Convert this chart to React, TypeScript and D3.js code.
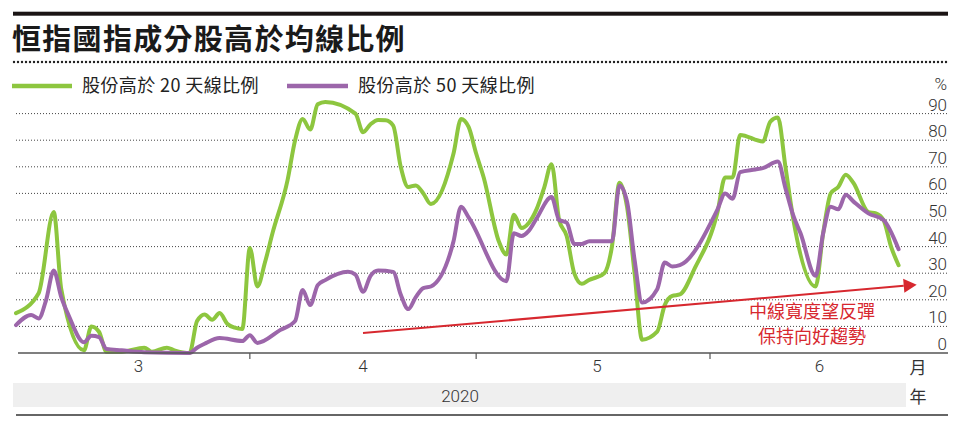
import React from "react";
import * as d3 from "d3";

// ---- data (day offset from 2020-03-01, value %) ----
const startDate = new Date(2020, 2, 1);
const green20Days = [0,3,5,6,9,10,11,12,14,17,18,20,21,23,24,25,26,27,28,29,30,31,32,33,34,36,37,38,39,40,41,45,46,47,48,49,50,51,52,53,54,55,58,59,60,61,62,64,65,66,67,68,69,70,71,72,73,74,75,76,77,78,79,80,81,82,83,85,86,87,88,90,93,94,95,96,99,100,101,102,103,106,107,108,109,110,111,113,114,115,116,117];
const green20Values = [15,22.5,53,24,1,10,8,0.5,0.5,2,0.5,2,1,0,12,14.5,12.5,15,11,9.5,9,39.5,25,34,45,65,80,88,84,93.5,94.4,90,83,86,87.6,87.5,85.5,70,62.4,63,60,56,75,88,85,75,66,42,37,52,47,49,54,62,71,50,44,30,26,27.5,28.5,30,40,64,55,30,5,8,18,21.5,22,32,53,66,66,82,79.5,87,88.5,70,51,25,45,60,62.4,67,64,53,52.5,50,40,33];
const purple50Days = [0,2,3,4,5,6,7,9,10,11,12,14,17,23,24,25,27,30,31,32,35,37,38,39,40,41,44,45,46,47,48,50,51,52,53,54,55,58,59,60,65,66,67,68,69,71,72,73,74,75,76,79,80,81,82,83,85,86,87,88,93,94,95,96,98,99,101,102,103,104,106,107,108,109,110,111,113,115,117];
const purple50Values = [10.5,14.3,13,20,31,21,14,4,6.5,6,1.5,1,0.3,0,2,3.5,5.6,4.5,6.7,3.8,8.6,12,23.7,18,25.5,27.4,30.5,29.5,23,29,31,30.5,22,16.5,21,24.4,25,42,55,51,27,45,44,46,50.5,58.6,50,49,41,41,42,42,63,57,35,19,24,34,32.5,33,54,60,58,68,69,69.5,72,62,52,45,29,45,55,54,59.5,57,52.5,50,39];
const yTicks = [0,10,20,30,40,50,60,70,80,90];
const monthTicks = ["2020-04-01","2020-05-01","2020-06-01"];
const monthLabels = [
  { label: "3", date: "2020-03-17T06:00:00" },
  { label: "4", date: "2020-04-16T00:00:00" },
  { label: "5", date: "2020-05-17T00:00:00" },
  { label: "6", date: "2020-06-15T12:00:00" },
];
const title = "恒指國指成分股高於均線比例";
const legend20 = "股份高於 20 天線比例";
const legend50 = "股份高於 50 天線比例";
const noteLines = ["中線寬度望反彈", "保持向好趨勢"];
const arrowFrom = { day: 46, value: 7.5 };
const arrowTo = { day: 119.4, value: 25.7 };

const GREEN = "#8dc63f";
const PURPLE = "#9c66aa";
const RED = "#d7282f";

const dayToDate = (d: number) => new Date(startDate.getTime() + d * 86400000);

export default function App() {
  const x = d3.scaleTime()
    .domain([startDate, new Date(2020, 5, 1)])
    .range([16, 710]);
  const y = d3.scaleLinear().domain([0, 90]).range([353, 113.6]);

  const line = d3.line<[number, number]>()
    .x((p) => x(dayToDate(p[0])))
    .y((p) => y(p[1]))
    .curve(d3.curveMonotoneX);

  const g = green20Days.map((d, i) => [d, green20Values[i]] as [number, number]);
  const p = purple50Days.map((d, i) => [d, purple50Values[i]] as [number, number]);

  const ax0 = x(dayToDate(arrowFrom.day));
  const ay0 = y(arrowFrom.value);
  const ax1 = x(dayToDate(arrowTo.day));
  const ay1 = y(arrowTo.value);
  const ang = Math.atan2(ay1 - ay0, ax1 - ax0);
  const headLen = 13, headW = 7;
  const bx = ax1 - headLen * Math.cos(ang);
  const by = ay1 - headLen * Math.sin(ang);
  const head = [
    [ax1, ay1],
    [bx + headW * Math.sin(ang), by - headW * Math.cos(ang)],
    [bx - headW * Math.sin(ang), by + headW * Math.cos(ang)],
  ].map((q) => q.join(",")).join(" ");

  const sans = "'Noto Sans CJK TC', 'Noto Sans', sans-serif";
  const num = "Roboto, 'Liberation Sans', sans-serif";

  return (
    <svg width={960} height={427} style={{ position: "absolute", left: 0, top: 0, background: "#fff" }}>
      <rect x={13} y={11.7} width={935} height={4} fill="#1a1414" />
      <text x={12} y={50} fontFamily={sans} fontWeight={700} fontSize={29} fill="#1a1a1a" letterSpacing={1.3}>{title}</text>
      <line x1={14} x2={948} y1={62} y2={62} stroke="#222" strokeWidth={2.4} strokeDasharray="0 4" strokeLinecap="round" />

      {/* legend */}
      <line x1={12} x2={72} y1={86} y2={86} stroke={GREEN} strokeWidth={4.5} />
      <text x={82} y={92} fontFamily={sans} fontSize={18} fill="#222" letterSpacing={0.4}>{legend20}</text>
      <line x1={287} x2={348} y1={86} y2={86} stroke={PURPLE} strokeWidth={4.5} />
      <text x={358} y={92} fontFamily={sans} fontSize={18} fill="#222" letterSpacing={0.4}>{legend50}</text>

      {/* grid */}
      {yTicks.filter((t) => t > 0).map((t) => (
        <line key={t} x1={16} x2={948} y1={y(t)} y2={y(t)} stroke="#444" strokeWidth={1} strokeDasharray="1 2" />
      ))}
      {yTicks.map((t) => (
        <text key={"l" + t} x={947} y={y(t) - 3} textAnchor="end" fontFamily={num} fontWeight={300} fontSize={17} fill="#333">{t}</text>
      ))}
      <text x={947} y={90} textAnchor="end" fontFamily={num} fontWeight={300} fontSize={17} fill="#333">%</text>

      {/* series */}
      <path d={line(g) || ""} fill="none" stroke={GREEN} strokeWidth={4} strokeLinejoin="round" strokeLinecap="round" />
      <path d={line(p) || ""} fill="none" stroke={PURPLE} strokeWidth={4} strokeLinejoin="round" strokeLinecap="round" />

      {/* arrow + note */}
      <line x1={ax0} y1={ay0} x2={bx} y2={by} stroke={RED} strokeWidth={2} />
      <polygon points={head} fill={RED} />
      {noteLines.map((t, i) => (
        <text key={t} x={812} y={318 + i * 25} textAnchor="middle" fontFamily={sans} fontSize={18} fill={RED}>{t}</text>
      ))}

      {/* x axis */}
      <line x1={18} x2={948} y1={353} y2={353} stroke="#555" strokeWidth={1.5} />
      {monthTicks.map((m) => (
        <line key={m} x1={x(new Date(m + "T00:00:00"))} x2={x(new Date(m + "T00:00:00"))} y1={353} y2={359} stroke="#555" strokeWidth={1.2} />
      ))}
      {monthLabels.map((m) => (
        <text key={m.label} x={x(new Date(m.date))} y={372} textAnchor="middle" fontFamily={num} fontWeight={300} fontSize={17} fill="#333">{m.label}</text>
      ))}
      <text x={918} y={374} textAnchor="middle" fontFamily={sans} fontSize={17} fill="#333">月</text>
      <rect x={13} y={383} width={893} height={24} fill="#efefef" />
      <text x={460} y={402} textAnchor="middle" fontFamily={num} fontWeight={300} fontSize={17} fill="#333">2020</text>
      <text x={918} y={403} textAnchor="middle" fontFamily={sans} fontSize={17} fill="#333">年</text>
      <line x1={16} x2={948} y1={415} y2={415} stroke="#333" strokeWidth={1.5} />
    </svg>
  );
}
